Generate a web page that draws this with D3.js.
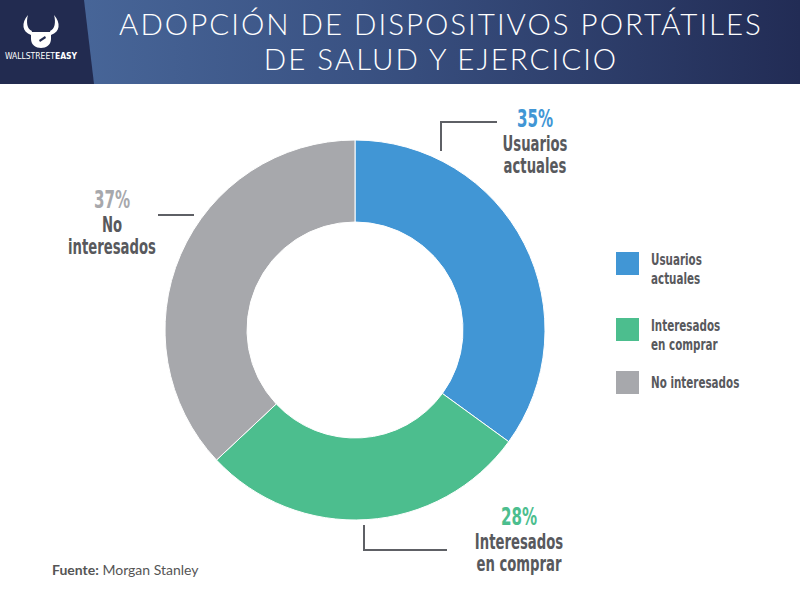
<!DOCTYPE html>
<html><head><meta charset="utf-8">
<script src="https://cdn.jsdelivr.net/npm/d3@7"></script>
<style>
html,body{margin:0;padding:0;background:#fff;}
svg{display:block;}
</style></head>
<body>
<svg id="chart" width="800" height="600"></svg>
<script>
const categories = ["Usuarios actuales", "Interesados en comprar", "No interesados"];
const values = [35, 28, 37];
const colors = ["#4196d5", "#4cbe8e", "#a7a8ac"];
const pctLabels = ["35%", "28%", "37%"];
const calloutLines = [["Usuarios", "actuales"], ["Interesados", "en comprar"], ["No", "interesados"]];
const legendLines = [["Usuarios", "actuales"], ["Interesados", "en comprar"], ["No interesados"]];
const titleLines = ["ADOPCIÓN DE DISPOSITIVOS PORTÁTILES", "DE SALUD Y EJERCICIO"];

const svg = d3.select("#chart");
const defs = svg.append("defs");
const grad = defs.append("linearGradient").attr("id", "hdr").attr("x1", "0%").attr("x2", "100%").attr("y1", "0%").attr("y2", "0%");
grad.append("stop").attr("offset", "0%").attr("stop-color", "#4b6b9e");
grad.append("stop").attr("offset", "45%").attr("stop-color", "#3a5283");
grad.append("stop").attr("offset", "100%").attr("stop-color", "#222c55");

// header
svg.append("rect").attr("x", 0).attr("y", 0).attr("width", 800).attr("height", 84).attr("fill", "url(#hdr)");
svg.append("path").attr("d", "M0,0 L84,0 L94,84 L0,84 Z").attr("fill", "#222b50");

// logo (simple bull)
const logo = svg.append("g").attr("transform", "translate(41,33)").attr("fill", "#fff");
logo.append("path").attr("d", "M-13,-18 C-20,-10 -19,-1 -10,2 L-9,-2 C-14,-4 -15,-11 -13,-18 Z");
logo.append("path").attr("d", "M13,-18 C20,-10 19,-1 10,2 L9,-2 C14,-4 15,-11 13,-18 Z");
logo.append("path").attr("d", "M-10,-1 L10,-1 L10,6 C10,12 5,15 0,15 C-5,15 -10,12 -10,6 Z");
logo.append("path").attr("d", "M-2,7 L4,3 L5,5 L-1,9 Z").attr("fill", "#222b50");
svg.append("text").attr("x", 41).attr("y", 59).attr("text-anchor", "middle")
  .attr("font-family", "'Liberation Sans Narrow','DejaVu Sans Condensed',sans-serif").attr("font-size", 8.5)
  .attr("fill", "#fff").html("WALLSTREET<tspan font-weight='bold'>EASY</tspan>");

// title
const title = svg.append("text")
  .attr("x", 441).attr("y", 35)
  .attr("text-anchor", "middle")
  .attr("font-family", "Lato, 'Open Sans', sans-serif").attr("font-weight", 300)
  .attr("font-size", 29.5).attr("letter-spacing", 2)
  .attr("fill", "#fff");
titleLines.forEach((s, i) => {
  title.append("tspan").attr("x", 441).attr("dy", i === 0 ? 0 : 35).text(s);
});

// donut
const cx = 355, cy = 330, rOuter = 190, rInner = 108;
const pie = d3.pie().sort(null).value(d => d);
const arc = d3.arc().innerRadius(rInner).outerRadius(rOuter);
const arcs = pie(values);
svg.append("g").attr("transform", `translate(${cx},${cy})`)
  .selectAll("path").data(arcs).join("path")
  .attr("d", arc).attr("fill", (d, i) => colors[i])
  .attr("stroke", "#fff").attr("stroke-width", 1);

// callouts
const condensed = "'Liberation Sans Narrow','DejaVu Sans Condensed','Roboto',sans-serif";
const callouts = [
  { line: [[441,151],[441,122],[497,122]], tx: 535, ty: 127 },
  { line: [[364,525],[364,550],[447,550]], tx: 519, ty: 525 },
  { line: [[158,215],[194,215]], tx: 112, ty: 208 }
];
const cg = svg.append("g");
callouts.forEach((c, i) => {
  cg.append("path").attr("d", d3.line()(c.line)).attr("fill", "none")
    .attr("stroke", "#5e6065").attr("stroke-width", 2);
  const t = cg.append("g").attr("transform", `translate(${c.tx},${c.ty}) scale(0.7,1)`)
    .append("text").attr("x", 0).attr("y", 0).attr("text-anchor", "middle")
    .attr("font-family", condensed).attr("font-weight", "bold");
  t.append("tspan").attr("x", 0).attr("font-size", 24).attr("fill", colors[i]).text(pctLabels[i]);
  calloutLines[i].forEach((s, j) => {
    t.append("tspan").attr("x", 0).attr("dy", j === 0 ? 24 : 22)
      .attr("font-size", 21).attr("fill", "#58595d").text(s);
  });
});

// legend
const legendY = [252, 318, 371];
const lg = svg.append("g");
categories.forEach((c, i) => {
  lg.append("rect").attr("x", 616).attr("y", legendY[i]).attr("width", 23).attr("height", 23).attr("fill", colors[i]);
  const n = legendLines[i].length;
  const t = lg.append("g").attr("transform", `translate(651,${legendY[i] + 13 + (n === 1 ? 4 : 0)}) scale(0.72,1)`)
    .append("text").attr("x", 0).attr("y", 0)
    .attr("font-family", condensed).attr("font-weight", "bold").attr("font-size", 16)
    .attr("fill", "#58595d");
  legendLines[i].forEach((s, j) => {
    t.append("tspan").attr("x", 0).attr("dy", j === 0 ? 0 : 19).text(s);
  });
});

// footer
svg.append("text").attr("x", 52).attr("y", 575)
  .attr("font-family", "Lato, 'Open Sans', sans-serif").attr("font-size", 14).attr("fill", "#555")
  .html("<tspan font-weight='bold'>Fuente:</tspan> Morgan Stanley");
</script>
</body></html>
